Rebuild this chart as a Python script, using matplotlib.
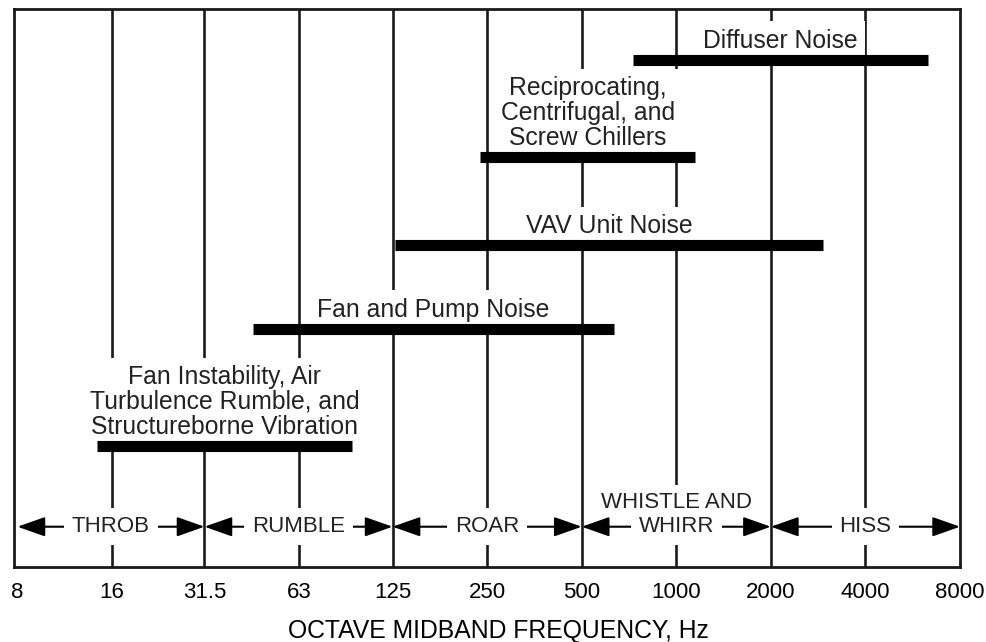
import matplotlib.pyplot as plt
import numpy as np

plt.rcParams['font.family'] = ['Liberation Sans', 'DejaVu Sans']

# octave band midband frequencies (Hz)
octave_hz = [8, 16, 31.5, 63, 125, 250, 500, 1000, 2000, 4000, 8000]
octave_labels = ['8', '16', '31.5', '63', '125', '250', '500', '1000', '2000', '4000', '8000']

# noise sources and the frequency span each one covers
sources = ['Diffuser Noise',
           'Reciprocating,\nCentrifugal, and\nScrew Chillers',
           'VAV Unit Noise',
           'Fan and Pump Noise',
           'Fan Instability, Air\nTurbulence Rumble, and\nStructureborne Vibration']
source_low_hz = [730, 237, 127, 45, 14.3]
source_high_hz = [6330, 1150, 2930, 634, 93]

# subjective sound quality regions
regions = ['THROB', 'RUMBLE', 'ROAR', 'WHISTLE AND\nWHIRR', 'HISS']
region_low_hz = [8, 31.5, 125, 500, 2000]
region_high_hz = [31.5, 125, 500, 2000, 8000]

# layout: vertical row of each bar (0 = bottom of frame, 100 = top)
source_rows = [90.9, 73.5, 57.7, 42.7, 21.7]
region_row = 7.2

LINE_COLOR = '#1a1a1a'
TEXT_COLOR = '#222222'


def main():
    fig = plt.figure(figsize=(9.87, 6.42), dpi=100)
    ax = fig.add_axes([0.0142, 0.117, 0.9585, 0.869])

    ax.set_xscale('log', base=2)
    ax.set_xlim(7.8, 8000)
    ax.set_ylim(0, 100)
    ax.set_yticks([])
    ax.set_xticks(octave_hz)
    ax.set_xticklabels(octave_labels, fontsize=16)
    ax.minorticks_off()
    ax.tick_params(axis='x', length=0, pad=11)
    ax.set_xlabel('OCTAVE MIDBAND FREQUENCY, Hz', fontsize=17.8)
    ax.xaxis.set_label_coords(0.512, -0.094)

    for sp in ax.spines.values():
        sp.set_linewidth(2.0)
        sp.set_color(LINE_COLOR)
        sp.set_zorder(6)

    # octave grid lines
    for f in octave_hz[1:-1]:
        ax.axvline(f, color=LINE_COLOR, lw=1.9, zorder=1)

    # noise source bars with their labels
    for name, lo, hi, row in zip(sources, source_low_hz, source_high_hz, source_rows):
        ax.hlines(row, lo, hi, color='black', lw=8, zorder=5)
        ax.annotate(name, xy=(np.sqrt(lo * hi), row), xytext=(0, 5),
                    textcoords='offset points', ha='center', va='bottom',
                    fontsize=17.8, linespacing=1.05, color=TEXT_COLOR, zorder=4,
                    bbox=dict(boxstyle='square,pad=0.3', fc='white', ec='none'))

    # region arrows along the bottom
    for name, lo, hi in zip(regions, region_low_hz, region_high_hz):
        mid = np.sqrt(lo * hi)
        ax.annotate('', xy=(hi, region_row), xytext=(lo, region_row),
                    arrowprops=dict(arrowstyle='<|-|>,head_length=0.85,head_width=0.3',
                                    mutation_scale=20, color='black', lw=1.5,
                                    shrinkA=0, shrinkB=0),
                    zorder=3)
        lines = name.split('\n')
        # last line sits on the arrow, any earlier lines stack above it
        ax.annotate(lines[-1], xy=(mid, region_row), ha='center', va='center',
                    fontsize=16, color=TEXT_COLOR, zorder=4,
                    bbox=dict(boxstyle='square,pad=0.35', fc='white', ec='none'))
        if len(lines) > 1:
            ax.annotate('\n'.join(lines[:-1]), xy=(mid, region_row), xytext=(0, 17.5),
                        textcoords='offset points', ha='center', va='center',
                        fontsize=16, color=TEXT_COLOR, zorder=2.5,
                        bbox=dict(boxstyle='square,pad=0.3', fc='white', ec='none'))

    fig.savefig('out.png', dpi=100)
    plt.close(fig)


if __name__ == '__main__':
    main()
